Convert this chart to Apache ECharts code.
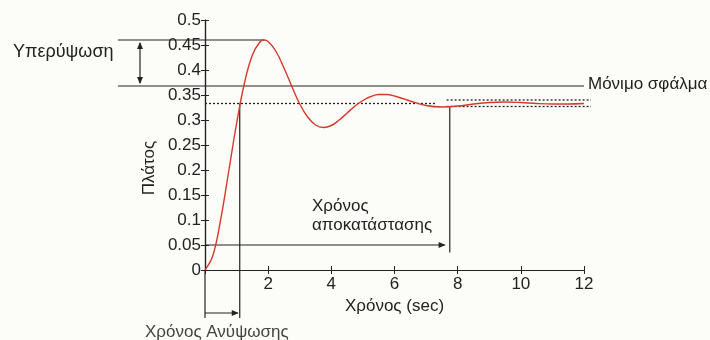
<!DOCTYPE html>
<html>
<head>
<meta charset="utf-8">
<script src="https://cdn.jsdelivr.net/npm/echarts@6/dist/echarts.min.js"></script>
<style>
  html, body { margin: 0; padding: 0; background: #fcfcf8; }
  #main { width: 710px; height: 340px; }
</style>
</head>
<body>
<div id="main"></div>
<script>
// time axis (sec) and step response amplitude
const timeSec = [0, 0.25, 0.5, 0.75, 1, 1.25, 1.5, 1.75, 1.875, 2, 2.25, 2.5, 2.75, 3, 3.25, 3.5, 3.75, 4,
  4.25, 4.5, 4.75, 5, 5.25, 5.5, 5.75, 6, 6.5, 7, 7.5, 8, 8.5, 9, 9.5, 10, 10.5, 11, 11.5, 12]
const amplitude = [0, 0.029, 0.102, 0.197, 0.293, 0.374, 0.430, 0.457, 0.460, 0.457, 0.437, 0.404, 0.367, 0.332,
  0.306, 0.290, 0.285, 0.289, 0.300, 0.314, 0.328, 0.339, 0.347, 0.351, 0.351, 0.348, 0.338, 0.329, 0.326,
  0.328, 0.332, 0.335, 0.336, 0.335, 0.333, 0.332, 0.332, 0.333]

// annotation levels
const peakValue = 0.46
const peakTime = 1.875
const upperLevel = 0.368
const finalValue = 0.333
const bandHigh = 0.340
const bandLow = 0.327
const riseTime = 1.1
const settleTime = 7.75
const settleArrowLevel = 0.05

const FONT = "'Liberation Sans', Arial, sans-serif"
const INK = '#222'

const chart = echarts.init(document.getElementById('main'))

const option = {
  animation: false,
  backgroundColor: '#fcfcf8',
  grid: { left: 205, right: 126, top: 20, bottom: 70 },
  xAxis: [
    {
      type: 'value', min: 0, max: 12, interval: 2,
      name: 'Χρόνος (sec)', nameLocation: 'middle', nameGap: 25,
      nameTextStyle: { color: INK, fontSize: 17, fontFamily: FONT },
      axisLine: { lineStyle: { color: INK, width: 1.2 } },
      axisTick: { inside: true, length: 4, lineStyle: { color: INK } },
      axisLabel: {
        color: INK, fontSize: 17, fontFamily: FONT, margin: 6,
        formatter: v => (v === 0 ? '' : String(v))
      },
      splitLine: { show: false }
    },
    {
      type: 'value', position: 'top', min: 0, max: 12, interval: 2,
      axisLine: { show: true, lineStyle: { color: INK, width: 1.2 } },
      axisTick: { inside: true, length: 4, lineStyle: { color: INK } },
      axisLabel: { show: false },
      splitLine: { show: false }
    }
  ],
  yAxis: [
    {
      type: 'value', min: 0, max: 0.5, interval: 0.05,
      axisLine: { show: true, lineStyle: { color: INK, width: 1.2 } },
      axisTick: { show: true, inside: true, length: 4, lineStyle: { color: INK } },
      axisLabel: { color: INK, fontSize: 17, fontFamily: FONT, margin: 4 },
      splitLine: { show: false }
    },
    {
      type: 'value', position: 'right', min: 0, max: 0.5, interval: 0.05,
      axisLine: { show: true, lineStyle: { color: INK, width: 1.2 } },
      axisTick: { show: true, inside: true, length: 4, lineStyle: { color: INK } },
      axisLabel: { show: false },
      splitLine: { show: false }
    }
  ],
  series: [
    {
      type: 'line',
      data: timeSec.map((t, i) => [t, amplitude[i]]),
      smooth: 0.4,
      showSymbol: false,
      lineStyle: { color: '#d8392c', width: 1.4 }
    }
  ]
}

chart.setOption(option)

// annotation overlay, positioned from data values
const px = (x, y) => chart.convertToPixel({ seriesIndex: 0 }, [x, y])

function seg(x1, y1, x2, y2, dashed) {
  return {
    type: 'line',
    shape: { x1, y1, x2, y2 },
    style: { stroke: INK, lineWidth: dashed ? 1.3 : 1.2, lineDash: dashed ? [2, 2] : null }
  }
}
// arrowhead pointing in direction (dx, dy) with tip at (x, y)
function head(x, y, dx, dy) {
  const L = 7, W = 3
  const bx = x - dx * L, by = y - dy * L
  return {
    type: 'polygon',
    shape: { points: [[x, y], [bx - dy * W, by + dx * W], [bx + dy * W, by - dx * W]] },
    style: { fill: INK }
  }
}
function label(text, x, y, extra) {
  return {
    type: 'text', x, y,
    style: Object.assign({ text, fill: INK, font: '17px ' + FONT, verticalAlign: 'middle' }, extra || {})
  }
}

const peak = px(peakTime, peakValue)
const upperR = px(12, upperLevel)
const finL = px(0, finalValue)
const finR = px(7.3, finalValue)
const bandHL = px(settleTime - 0.1, bandHigh)
const bandHR = px(12, bandHigh)
const bandLL = px(settleTime - 0.1, bandLow)
const bandLR = px(12, bandLow)
const origin = px(0, 0)
const rise = px(riseTime, finalValue)
const settleTop = px(settleTime, bandLow)
const settleBot = px(settleTime, 0.035)
const arrowL = px(0, settleArrowLevel)
const arrowR = px(settleTime - 0.1, settleArrowLevel)

const leftX = 118
const riseArrowY = 313
const riseBottom = 318

chart.setOption({
  graphic: [
    // y axis title
    {
      type: 'text', x: 149, y: 168, rotation: Math.PI / 2,
      style: { text: 'Πλάτος', fill: INK, font: '17px ' + FONT, align: 'center', verticalAlign: 'middle' }
    },
    // overshoot
    seg(leftX, peak[1], peak[0], peak[1]),
    seg(leftX, upperR[1], upperR[0], upperR[1]),
    seg(140, peak[1] + 3, 140, upperR[1] - 3),
    head(140, peak[1] + 2, 0, -1),
    head(140, upperR[1] - 2, 0, 1),
    label('Υπερύψωση', 13, 52, { font: '18px ' + FONT }),
    label('Μόνιμο σφάλμα', upperR[0] + 4, upperR[1] - 2),
    // final value and 2% band
    seg(finL[0], finL[1], finR[0], finR[1], true),
    seg(bandHL[0], bandHL[1], bandHR[0] + 7, bandHR[1], true),
    seg(bandLL[0], bandLL[1], bandLR[0] + 7, bandLR[1], true),
    // rise time
    seg(origin[0], origin[1], origin[0], riseBottom),
    seg(rise[0], rise[1], rise[0], riseBottom),
    seg(origin[0], riseArrowY, rise[0] - 2, riseArrowY),
    head(rise[0] - 1, riseArrowY, 1, 0),
    label('Χρόνος Ανύψωσης', 145, 332, { fill: '#444' }),
    // settling time
    seg(settleTop[0], settleTop[1], settleBot[0], settleBot[1]),
    seg(arrowL[0], arrowL[1], arrowR[0] - 2, arrowR[1]),
    head(arrowR[0] - 1, arrowR[1], 1, 0),
    label('Χρόνος', 312, 206),
    label('αποκατάστασης', 312, 225)
  ]
})
</script>
</body>
</html>
